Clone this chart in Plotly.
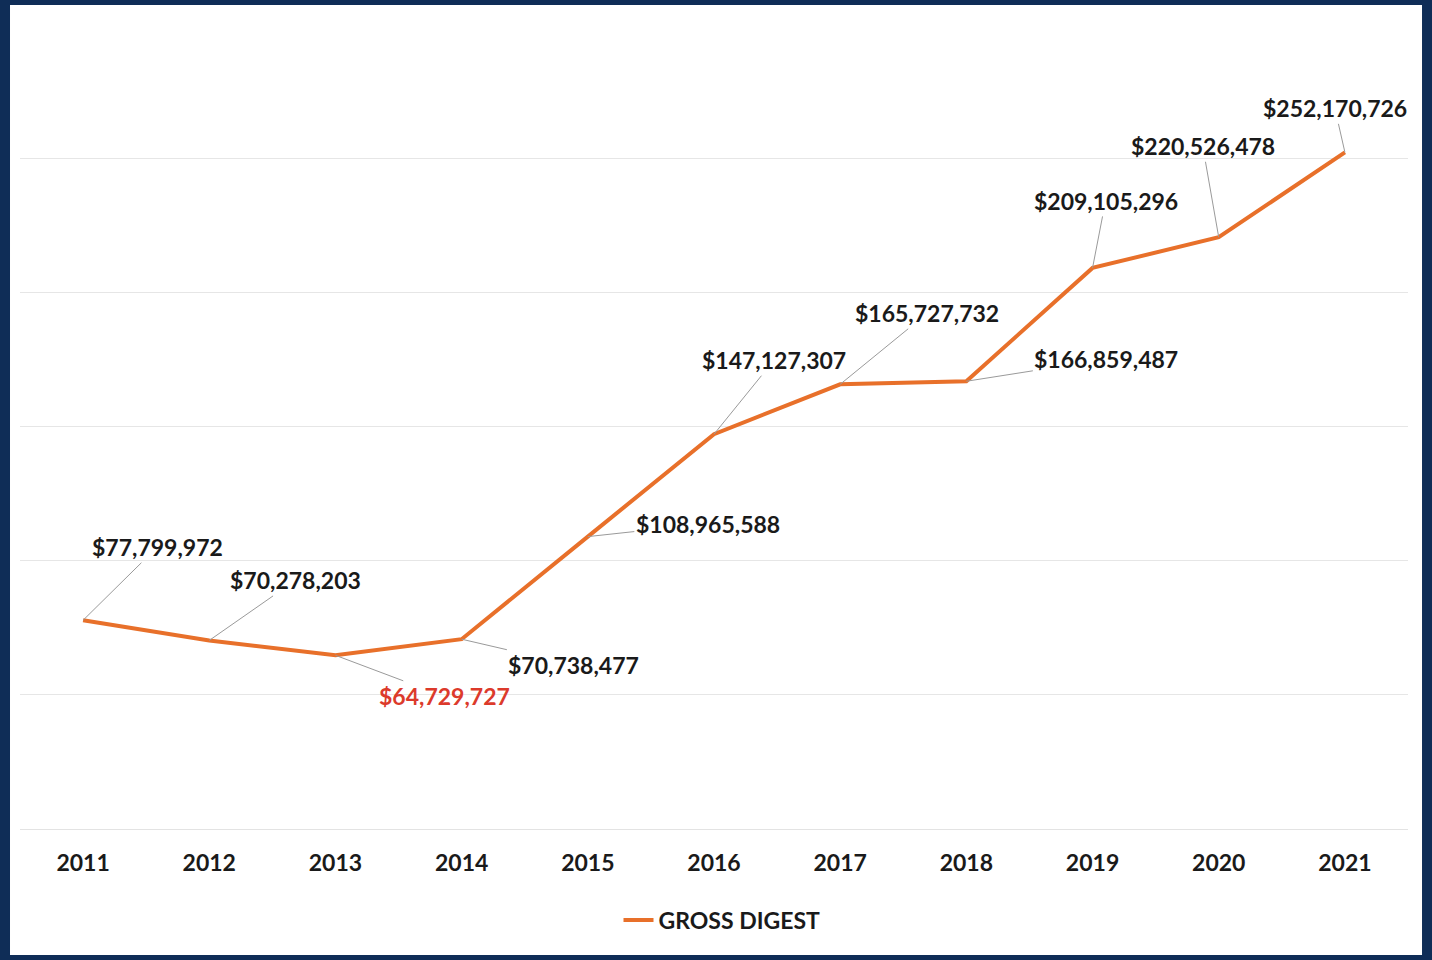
import plotly.graph_objects as go

years = ["2011", "2012", "2013", "2014", "2015", "2016", "2017", "2018", "2019", "2020", "2021"]
gross_digest = [77799972, 70278203, 64729727, 70738477, 108965588, 147127307,
                165727732, 166859487, 209105296, 220526478, 252170726]
series_name = "GROSS DIGEST"

# label offsets (pixels) from each point to its data label
label_dx = [74, 86, 109, 112, 120, 60, 87, 140, 13, -16, -10]
label_dy = [-73, -60, 41, 26, -13, -74, -71, -22, -67, -91, -44]

LINE = "#e8702a"
TEXT = "#1a1a1a"
RED = "#dc3a2b"
NAVY = "#0f2d57"
FONT = "Lato"

fig = go.Figure()
fig.add_trace(go.Scatter(
    x=years, y=gross_digest, mode="lines", name=series_name,
    line=dict(color=LINE, width=4),
))

annotations = []
for i, v in enumerate(gross_digest):
    col = RED if v == min(gross_digest) else TEXT
    annotations.append(dict(
        x=i, y=v, xref="x", yref="y",
        text="<b>$" + f"{v:,}" + "</b>",
        showarrow=True, arrowhead=0, arrowwidth=1, arrowcolor="#9a9a9a",
        ax=label_dx[i], ay=label_dy[i], standoff=0,
        font=dict(family=FONT, size=23, color=col, weight="bold"),
    ))

fig.update_layout(
    width=1432, height=960,
    margin=dict(l=20, r=24, t=24, b=131),
    paper_bgcolor=NAVY, plot_bgcolor="white",
    showlegend=True,
    legend=dict(orientation="h", x=0.5 + 8 / 1388, xanchor="center", y=-0.113, yanchor="middle",
                font=dict(family=FONT, size=23, color=TEXT, weight="bold"),
                bgcolor="rgba(0,0,0,0)"),
    annotations=annotations,
    shapes=[dict(type="rect", xref="paper", yref="paper", x0=-0.0072, x1=1.0101,
                 y0=-0.1565, y1=1.0236, fillcolor="white", line=dict(width=0), layer="below")],
    font=dict(family=FONT, color=TEXT),
)
fig.update_xaxes(type="category", range=[-0.5, 10.5], showgrid=False,
                 showline=True, linecolor="#e3e3e3", linewidth=1,
                 ticks="", ticklabelstandoff=13,
                 tickfont=dict(family=FONT, size=23, color=TEXT, weight="bold"))
fig.update_yaxes(range=[0, 300000000], dtick=50000000, showgrid=True,
                 gridcolor="#e6e6e6", gridwidth=1, showticklabels=False,
                 zeroline=False, ticks="")

fig.write_html("out.html", config={"displayModeBar": False},
               post_script="document.body.style.margin='0';")
